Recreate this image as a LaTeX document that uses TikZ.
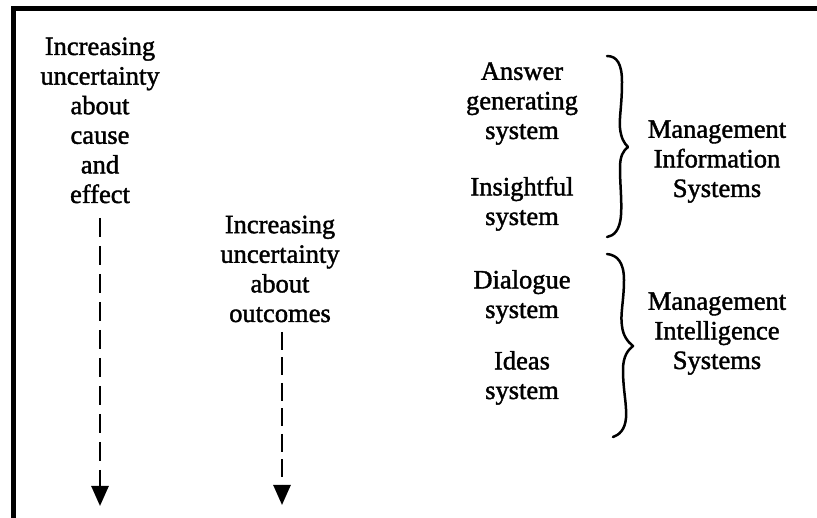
\documentclass[tikz,border=0pt]{standalone}
\usepackage{fontspec}
\setmainfont{Liberation Serif}[FakeBold=1.5]
\usetikzlibrary{arrows.meta}
\begin{document}
\begin{tikzpicture}[x=1pt,y=-1pt,
  lbl/.style={align=center,anchor=base,inner sep=0pt,font=\fontsize{26.5}{29.6}\selectfont},
  dasharrow/.style={line width=2.6pt,-{Triangle[width=17pt,length=20pt]}},
  bracepath/.style={line width=2.5pt,line cap=round,line join=round}]
\useasboundingbox (0,0) rectangle (817,518);
\fill[white] (0,0) rectangle (817,518);
% frame bars
\fill[black] (10.5,6) rectangle (817,11);
\fill[black] (10.5,6) rectangle (16,518);
% left column (anchor base = baseline of last line)
\node[lbl] (t1) at (100,203) {Increasing\\uncertainty\\about\\cause\\and\\effect};
\node[lbl] (t2) at (280,322) {Increasing\\uncertainty\\about\\outcomes};
\coordinate (a1s) at (100,218);
\coordinate (a1e) at (100,506);
\coordinate (a2s) at (282,332);
\coordinate (a2e) at (282,505);
\draw[dasharrow,dash pattern=on 19.5pt off 8.5pt] (a1s) -- (a1e);
\draw[dasharrow,dash pattern=on 18pt off 7.5pt] (a2s) -- (a2e);
% systems
\node[lbl] (ans) at (522,139) {Answer\\generating\\system};
\node[lbl] (ins) at (522,225) {Insightful\\system};
\node[lbl] (dia) at (522,318) {Dialogue\\system};
\node[lbl] (ide) at (522,399) {Ideas\\system};
% braces
\coordinate (b1t) at (607,56);
\coordinate (b1m) at (628,147);
\coordinate (b1b) at (607,237);
\draw[bracepath] (b1t) .. controls (617,56) and (622,64) .. (622,82)
  .. controls (622,105) and (619,118) .. (620,128)
  .. controls (621,138) and (624,143) .. (b1m)
  .. controls (623,151) and (620,156) .. (620,168)
  .. controls (620,185) and (622,200) .. (621,215)
  .. controls (620,230) and (614,236) .. (b1b);
\coordinate (b2t) at (607,254);
\coordinate (b2m) at (633,346);
\coordinate (b2b) at (613,437);
\draw[bracepath] (b2t) .. controls (617,255) and (624,262) .. (624,280)
  .. controls (624,300) and (620,315) .. (622,326)
  .. controls (623,336) and (628,342) .. (b2m)
  .. controls (628,350) and (623,356) .. (623,370)
  .. controls (623,390) and (627,405) .. (626,418)
  .. controls (625,430) and (619,435) .. (b2b);
% group labels
\node[lbl] (mis) at (717,197) {Management\\Information\\Systems};
\node[lbl] (mints) at (717,369) {Management\\Intelligence\\Systems};
\end{tikzpicture}
\end{document}
